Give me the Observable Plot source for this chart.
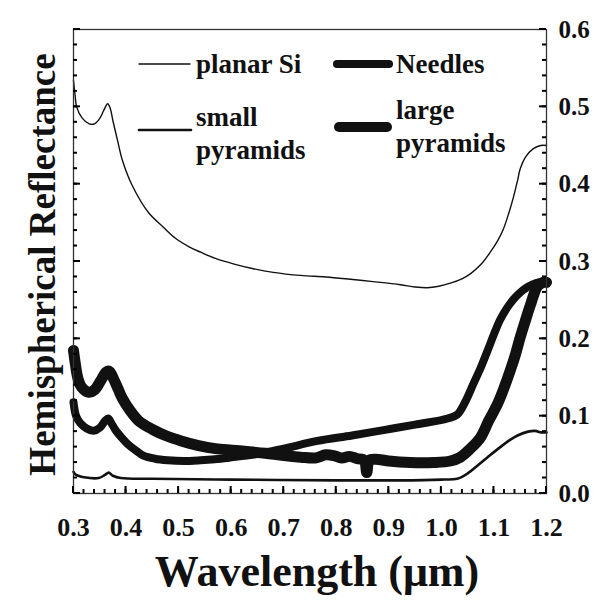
<!DOCTYPE html>
<html><head><meta charset="utf-8">
<script src="https://cdn.jsdelivr.net/npm/d3@7"></script>
<script src="https://cdn.jsdelivr.net/npm/@observablehq/plot@0.6"></script>
<style>
body{margin:0;background:#fff;}
#wrap{position:relative;width:601px;height:606px;background:#fff;}
#legend{position:absolute;left:0;top:0;pointer-events:none;}
</style></head><body><div id="wrap"></div>
<script>
// ---- data (wavelength in µm, hemispherical reflectance) ----
const planarWl = [0.300,0.303,0.306,0.317,0.330,0.340,0.350,0.358,0.365,0.370,0.375,0.384,0.393,0.412,0.443,0.470,0.494,0.520,0.542,0.570,0.604,0.640,0.680,0.732,0.780,0.827,0.870,0.922,0.950,0.973,0.995,1.017,1.040,1.055,1.075,1.093,1.108,1.118,1.128,1.137,1.145,1.150,1.160,1.175,1.189,1.200];
const planarR  = [0.534,0.515,0.500,0.485,0.478,0.478,0.485,0.496,0.504,0.498,0.482,0.456,0.431,0.398,0.363,0.345,0.330,0.319,0.312,0.304,0.297,0.291,0.286,0.282,0.280,0.277,0.274,0.270,0.267,0.266,0.268,0.272,0.278,0.284,0.296,0.312,0.328,0.342,0.362,0.383,0.405,0.420,0.435,0.446,0.450,0.450];

const smallWl = [0.300,0.305,0.320,0.348,0.360,0.367,0.375,0.390,0.450,0.600,0.800,0.922,1.000,1.030,1.050,1.070,1.088,1.112,1.130,1.145,1.165,1.178,1.190,1.200];
const smallR  = [0.028,0.024,0.021,0.020,0.024,0.027,0.023,0.020,0.019,0.018,0.017,0.017,0.018,0.019,0.026,0.037,0.047,0.060,0.069,0.075,0.080,0.081,0.079,0.079];

const needlesWl = [0.300,0.305,0.313,0.325,0.338,0.350,0.360,0.366,0.372,0.380,0.392,0.403,0.420,0.433,0.455,0.479,0.510,0.542,0.580,0.604,0.650,0.700,0.764,0.830,0.890,0.950,1.012,1.030,1.045,1.061,1.075,1.088,1.100,1.112,1.125,1.137,1.150,1.164,1.180,1.200];
const needlesR  = [0.118,0.100,0.091,0.084,0.081,0.085,0.094,0.097,0.091,0.082,0.072,0.064,0.055,0.049,0.045,0.043,0.042,0.043,0.045,0.047,0.051,0.058,0.068,0.075,0.082,0.089,0.097,0.102,0.118,0.142,0.163,0.185,0.206,0.225,0.240,0.251,0.260,0.267,0.272,0.274];

const largeWl = [0.300,0.303,0.308,0.315,0.329,0.340,0.352,0.362,0.368,0.375,0.385,0.393,0.408,0.424,0.450,0.475,0.505,0.538,0.570,0.602,0.635,0.665,0.700,0.732,0.760,0.780,0.795,0.810,0.825,0.840,0.853,0.858,0.863,0.880,0.900,0.941,0.985,1.017,1.036,1.055,1.074,1.090,1.107,1.120,1.131,1.141,1.150,1.160,1.170,1.183,1.194,1.200];
const largeR  = [0.185,0.170,0.150,0.138,0.131,0.134,0.146,0.157,0.158,0.150,0.135,0.123,0.107,0.094,0.083,0.075,0.068,0.062,0.058,0.056,0.054,0.052,0.049,0.047,0.046,0.050,0.049,0.046,0.048,0.045,0.043,0.027,0.043,0.044,0.042,0.040,0.040,0.042,0.047,0.058,0.072,0.094,0.116,0.138,0.159,0.180,0.202,0.224,0.245,0.268,0.273,0.273];

const seriesNames = ["planar Si", "small pyramids", "Needles", "large pyramids"];
const xTickValues = [0.3,0.4,0.5,0.6,0.7,0.8,0.9,1.0,1.1,1.2];
const yTickValues = [0.0,0.1,0.2,0.3,0.4,0.5,0.6];
const xLabel = "Wavelength (\u03bcm)";
const yLabel = "Hemispherical Reflectance";
const legendLines = [["planar Si"], ["small","pyramids"], ["Needles"], ["large","pyramids"]];

// ---- styles / layout ----
const W = 601, H = 606, mL = 73, mR = 55, mT = 29, mB = 113;
const frameW = W - mL - mR, frameH = H - mT - mB;
const widths = {"planar Si": 1.4, "small pyramids": 2.6, "Needles": 8, "large pyramids": 11};
const ink = "#111";
const serif = "'Liberation Serif', 'Times New Roman', serif";

const toRows = (name, wl, r) => wl.map((w, i) => ({series: name, w, r: r[i]}));
const tables = [
  toRows(seriesNames[0], planarWl, planarR),
  toRows(seriesNames[1], smallWl, smallR),
  toRows(seriesNames[2], needlesWl, needlesR),
  toRows(seriesNames[3], largeWl, largeR)
];

const xMinor = d3.range(0.30, 1.2001, 0.02).map(v => +v.toFixed(2));
const yMinor = d3.range(0.0, 0.6001, 0.02).map(v => +v.toFixed(2));

const chart = Plot.plot({
  width: W, height: H,
  marginLeft: mL, marginRight: mR, marginTop: mT, marginBottom: mB,
  x: {domain: [0.3, 1.2]},
  y: {domain: [0, 0.6]},
  style: {fontFamily: serif, fontWeight: "bold", background: "white", color: ink},
  marks: [
    ...tables.map(t => Plot.line(t, {x: "w", y: "r", stroke: ink, strokeWidth: widths[t[0].series], curve: "catmull-rom", strokeLinejoin: "round", strokeLinecap: "round"})),
    Plot.frame({stroke: "#333", strokeWidth: 1.3}),
    Plot.axisX(xTickValues, {anchor: "bottom", tickSize: 0, tickPadding: 24, tickFormat: d3.format(".1f"), fontSize: 26, label: null}),
    Plot.axisY(yTickValues, {anchor: "right", tickSize: 0, tickPadding: 12, tickFormat: d3.format(".1f"), fontSize: 25, label: null}),
    Plot.text([xLabel], {frameAnchor: "bottom", lineAnchor: "middle", textAnchor: "middle", dx: 7, dy: 78, fontSize: 44, fontWeight: "bold", fill: ink}),
    Plot.text([yLabel], {frameAnchor: "left", lineAnchor: "middle", textAnchor: "middle", rotate: -90, dx: -30, dy: 3, fontSize: 37, fontWeight: "bold", fill: ink})
  ]
});
const wrap = document.getElementById("wrap");
wrap.appendChild(chart);

// ---- overlay: inward ticks (positioned through the chart's own scales) and legend ----
const sx = chart.scale("x"), sy = chart.scale("y");
const lg = d3.select(wrap).append("svg").attr("id", "legend").attr("width", W).attr("height", H);
const tickG = lg.append("g").attr("stroke", "#000").attr("stroke-width", 2);
const x0 = mL, x1 = W - mR, yb = H - mB;
[[xMinor, 4], [xTickValues, 7]].forEach(([vals, len]) => vals.forEach(v => {
  const px = sx.apply(v);
  tickG.append("line").attr("x1", px).attr("x2", px).attr("y1", yb).attr("y2", yb - len);
}));
[[yMinor, 4], [yTickValues, 7]].forEach(([vals, len]) => vals.forEach(v => {
  const py = sy.apply(v);
  tickG.append("line").attr("x1", x0).attr("x2", x0 + len).attr("y1", py).attr("y2", py);
  tickG.append("line").attr("x1", x1).attr("x2", x1 - len).attr("y1", py).attr("y2", py);
}));

const legendPos = [
  {x1: 139, x2: 190, y: 64, tx: 196, ty: [64]},
  {x1: 139, x2: 191, y: 130, tx: 196, ty: [117, 150]},
  {x1: 337, x2: 389, y: 64, tx: 396, ty: [64]},
  {x1: 339, x2: 387, y: 127, tx: 396, ty: [110, 143]}
];
seriesNames.forEach((name, i) => {
  const p = legendPos[i];
  lg.append("line").attr("x1", p.x1).attr("x2", p.x2).attr("y1", p.y).attr("y2", p.y)
    .attr("stroke", ink).attr("stroke-width", Math.min(widths[name], 10)).attr("stroke-linecap", "round");
  legendLines[i].forEach((txt, j) => {
    lg.append("text").attr("x", p.tx).attr("y", p.ty[j]).attr("dy", "0.35em")
      .attr("font-family", serif).attr("font-weight", "bold").attr("font-size", 27).attr("fill", ink).text(txt);
  });
});
</script></body></html>
